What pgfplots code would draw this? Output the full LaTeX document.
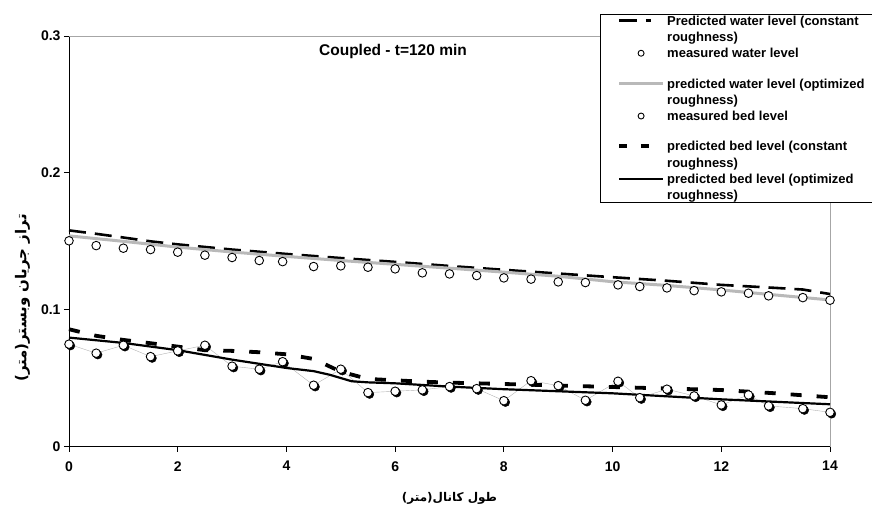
\documentclass[border=0pt]{standalone}
\usepackage{pgfplots}
\pgfplotsset{compat=1.18}
\usepackage{fontspec}
\setmainfont{Liberation Sans}
\newfontfamily\arabicfont[Script=Arabic]{DejaVu Sans}
\TeXXeTstate=1
\newcommand\lstrut{\rule[-2.8pt]{0pt}{10pt}}

\pgfplotstableread{
x y
0 0.1504
0.5 0.1469
1 0.1450
1.5 0.1440
2 0.1421
2.5 0.1399
3 0.1382
3.5 0.1360
3.93 0.1352
4.5 0.1316
5 0.1321
5.5 0.1311
6 0.1299
6.5 0.1270
7 0.1262
7.5 0.1250
8 0.1233
8.5 0.1224
9 0.1204
9.5 0.1199
10.1 0.1182
10.5 0.1170
11 0.1160
11.5 0.1140
12 0.1131
12.5 0.1121
12.87 0.1102
13.5 0.1089
14 0.1070
}\measwater

\pgfplotstableread{
x y
0 0.0749
0.5 0.0683
1 0.0741
1.5 0.0658
2 0.0700
2.5 0.0741
3 0.0588
3.5 0.0566
3.93 0.0621
4.5 0.0449
5 0.0566
5.5 0.0395
6 0.0405
6.5 0.0415
7 0.0439
7.5 0.0424
8 0.0336
8.5 0.0482
9 0.0446
9.5 0.0339
10.1 0.0478
10.5 0.0358
11 0.0420
11.5 0.0371
12 0.0305
12.5 0.0378
12.87 0.0298
13.5 0.0278
14 0.0251
}\measbed

\pgfplotstableread{
x y
0 0.158
0.5 0.1555
1 0.1528
1.5 0.150
2 0.1478
3 0.144
4 0.1408
5 0.1378
6 0.135
7 0.132
8 0.1292
9 0.1265
10 0.1238
11 0.1212
12 0.1182
13 0.116
13.5 0.1148
14 0.1115
}\predwaterconst

\pgfplotstableread{
x y
0 0.154
1 0.150
2 0.1458
3 0.1422
4 0.139
5 0.136
6 0.1332
7 0.1304
8 0.1275
9 0.1245
10 0.1205
11 0.1178
12 0.1145
13 0.1108
14 0.1072
}\predwateropt

\pgfplotstableread{
x y
0 0.0858
0.5 0.081
1 0.078
1.5 0.0756
2 0.0731
2.5 0.0705
3 0.070
3.5 0.069
4 0.0675
4.5 0.0641
5 0.0548
5.5 0.0495
6 0.0485
6.5 0.0475
7 0.0468
8 0.0458
9 0.0447
10 0.0436
11 0.0425
12 0.0414
13 0.039
14 0.0361
}\predbedconst

\pgfplotstableread{
x y
0 0.0797
1 0.0758
2 0.0705
3 0.0636
4 0.0575
4.5 0.0552
4.8 0.0525
5.2 0.0478
5.5 0.047
6 0.0463
7 0.0439
8 0.042
10 0.039
12 0.0346
14 0.031
}\predbedopt

\begin{document}
\begin{tikzpicture}
\begin{axis}[
  scale only axis, width=761pt, height=410.7pt,
  xmin=0, xmax=14, ymin=0, ymax=0.3,
  axis x line*=bottom, axis y line*=left,
  xtick={0,2,...,14}, ytick={0,0.1,0.2,0.3},
  tick align=outside, major tick length=5pt,
  tick style={black, line width=0.8pt},
  axis line style={black, line width=0.8pt},
  /pgf/number format/assume math mode=true,
  ticklabel style={font=\fontsize{14}{16}\selectfont\bfseries},
  xticklabel style={yshift=-6pt},
  yticklabel style={/pgf/number format/fixed, /pgf/number format/precision=1},
  scaled y ticks=false,
  clip=false,
  xlabel={\arabicfont\bfseries\beginR طول کانال(متر)\endR},
  xlabel style={at={(axis description cs:0.5,-0.127)}, anchor=center, font=\fontsize{12}{15}\selectfont},
  ylabel={\arabicfont\bfseries\beginR تراز جریان وبستر(متر)\endR},
  ylabel style={at={(axis description cs:-0.0611,0.362)}, anchor=center, font=\fontsize{15}{17}\selectfont},
  legend image code/.code={\draw[mark repeat=2,mark phase=2,#1] plot coordinates {(0pt,4.6pt) (22pt,4.6pt) (44pt,4.6pt)};},
  legend style={at={(0.6978,1.054)}, anchor=north west, draw=black, line width=0.8pt,
    inner xsep=16.5pt, inner ysep=1.7pt, row sep=5.33pt, column sep=2pt,
    font=\fontsize{13}{14.8}\selectfont\bfseries,
    nodes={inner sep=0pt}, cells={anchor=base west}},
]
\draw[gray!70, line width=0.8pt] (rel axis cs:0,1) -- (rel axis cs:1,1) -- (rel axis cs:1,0);

\addplot[forget plot, black, line width=2.6pt, dash pattern=on 17pt off 9pt] table {\predwaterconst};
\addplot[forget plot, gray!55, line width=3pt] table {\predwateropt};
\addplot[forget plot, only marks, mark=*, mark size=4.3pt, mark options={fill=white, draw=black, line width=0.9pt}] table {\measwater};
\addplot[forget plot, gray!60, line width=0.4pt] table {\measbed};
\addplot[forget plot, black, line width=3.8pt, dash pattern=on 11pt off 15pt] table {\predbedconst};
\addplot[forget plot, black, line width=2.2pt] table {\predbedopt};
\addplot[forget plot, only marks, mark=*, mark size=4.3pt, mark options={fill=black, draw=black, xshift=1.6pt, yshift=-1.6pt}] table {\measbed};
\addplot[forget plot, only marks, mark=*, mark size=4.3pt, mark options={fill=white, draw=black, line width=0.9pt}] table {\measbed};

\addlegendimage{black, line width=3pt, dash pattern=on 18.3pt off 8.4pt on 5.6pt off 20pt}
\addlegendentry{\lstrut Predicted water level (constant}
\addlegendimage{empty legend}
\addlegendentry{\lstrut roughness)}
\addlegendimage{only marks, mark=o, mark size=3pt, mark options={black, line width=0.9pt}}
\addlegendentry{\lstrut measured water level}
\addlegendimage{empty legend}
\addlegendentry{\lstrut}
\addlegendimage{gray!55, line width=3pt}
\addlegendentry{\lstrut predicted water level (optimized}
\addlegendimage{empty legend}
\addlegendentry{\lstrut roughness)}
\addlegendimage{only marks, mark=o, mark size=3pt, mark options={black, line width=0.9pt}}
\addlegendentry{\lstrut measured bed level}
\addlegendimage{empty legend}
\addlegendentry{\lstrut}
\addlegendimage{black, line width=4.3pt, dash pattern=on 8pt off 13.7pt on 8pt off 20pt}
\addlegendentry{\lstrut predicted bed level (constant}
\addlegendimage{empty legend}
\addlegendentry{\lstrut roughness)}
\addlegendimage{black, line width=2.2pt}
\addlegendentry{\lstrut predicted bed level (optimized}
\addlegendimage{empty legend}
\addlegendentry{\lstrut roughness)}

\node[font=\fontsize{15.5}{18}\selectfont\bfseries, anchor=base] at (axis cs:5.96,0.2854) {Coupled - t=120 min};
\end{axis}
\pgfresetboundingbox
\path[use as bounding box] ([shift={(-69pt,-64.3pt)}]current axis.south west) rectangle ([shift={(42pt,36pt)}]current axis.north east);
\end{tikzpicture}
\end{document}
